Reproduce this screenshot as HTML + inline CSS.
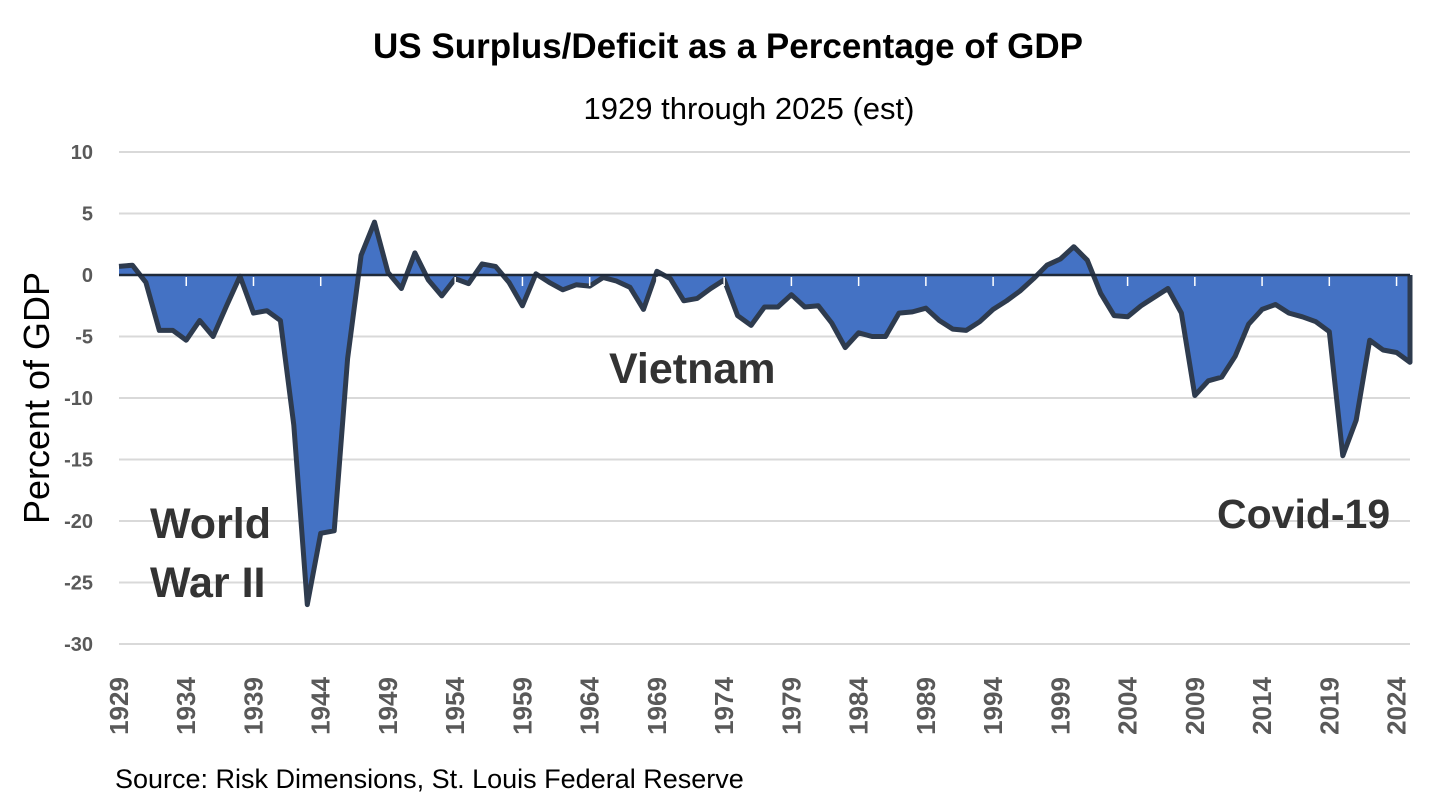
<!DOCTYPE html>
<html><head><meta charset="utf-8">
<style>
html,body{margin:0;padding:0;background:#fff;}
svg{display:block;font-family:"Liberation Sans",sans-serif;}
</style></head>
<body>
<svg id="chart" width="1456" height="807" viewBox="0 0 1456 807" xmlns="http://www.w3.org/2000/svg">
<rect width="1456" height="807" fill="#fff"/>
<text x="728" y="58" text-anchor="middle" font-size="35" font-weight="bold" fill="#000">US Surplus/Deficit as a Percentage of GDP</text>
<text x="749" y="119" text-anchor="middle" font-size="31" fill="#000">1929 through 2025 (est)</text>
<text transform="translate(49,398) rotate(-90)" text-anchor="middle" font-size="36" fill="#000">Percent of GDP</text>
<g id="grid"></g>
<g id="area"></g>
<g id="xaxis"></g>
<g id="yaxis"></g>
<text x="150" y="538" font-size="43" font-weight="bold" fill="#333">World</text>
<text x="150" y="597" font-size="43" font-weight="bold" fill="#333">War II</text>
<text x="609" y="383" font-size="43" font-weight="bold" fill="#333">Vietnam</text>
<text x="1217" y="528" font-size="41" font-weight="bold" fill="#333">Covid-19</text>
<text x="115" y="788" font-size="27" fill="#000">Source: Risk Dimensions, St. Louis Federal Reserve</text>
</svg>
<script>
const startYear = 1929;
const values = [0.7,0.8,-0.6,-4.5,-4.5,-5.3,-3.7,-5.0,-2.5,-0.1,-3.1,-2.9,-3.7,-12.2,-26.8,-21.0,-20.8,-6.8,1.6,4.3,0.2,-1.1,1.8,-0.4,-1.7,-0.3,-0.7,0.9,0.7,-0.6,-2.5,0.1,-0.6,-1.2,-0.8,-0.9,-0.2,-0.5,-1.0,-2.8,0.3,-0.3,-2.1,-1.9,-1.1,-0.4,-3.3,-4.1,-2.6,-2.6,-1.6,-2.6,-2.5,-3.9,-5.9,-4.7,-5.0,-5.0,-3.1,-3.0,-2.7,-3.7,-4.4,-4.5,-3.8,-2.8,-2.1,-1.3,-0.3,0.8,1.3,2.3,1.2,-1.5,-3.3,-3.4,-2.5,-1.8,-1.1,-3.1,-9.8,-8.6,-8.3,-6.6,-4.0,-2.8,-2.4,-3.1,-3.4,-3.8,-4.6,-14.7,-11.8,-5.3,-6.1,-6.3,-7.1];
const yTicks = [10,5,0,-5,-10,-15,-20,-25,-30];
const xTickYears = [1929,1934,1939,1944,1949,1954,1959,1964,1969,1974,1979,1984,1989,1994,1999,2004,2009,2014,2019,2024];

const NS="http://www.w3.org/2000/svg";
const X0=119, X1=1410, Y10=152, Yn30=644;
const endYear = startYear + values.length - 1;
function xs(yr){return X0+(yr-1929)*(X1-X0)/96;}
function ys(v){return Y10+(10-v)*(Yn30-Y10)/40;}
function mk(tag,attrs,parent){const e=document.createElementNS(NS,tag);for(const k in attrs)e.setAttribute(k,attrs[k]);parent.appendChild(e);return e;}

const grid=document.getElementById('grid'), yax=document.getElementById('yaxis');
yTicks.forEach(t=>{
  const l=mk('line',{x1:X0,x2:X1,y1:ys(t),y2:ys(t),stroke:'#d9d9d9','stroke-width':2},grid);
  
  
  const tx=mk('text',{x:93,y:ys(t)+7,'text-anchor':'end','font-size':20,'font-weight':'bold',fill:'#595959'},yax);
  tx.textContent=t;
  
  
});

const area=document.getElementById('area');
let pts=values.map((v,i)=>xs(startYear+i).toFixed(1)+','+ys(v).toFixed(1));
const fillD='M'+xs(startYear)+','+ys(0)+' L'+pts.join(' L')+' L'+xs(endYear)+','+ys(0)+' Z';
const f=mk('path',{d:fillD,fill:'#4472c4',stroke:'none'},area);


const ln=mk('path',{d:'M'+pts.join(' L')+' L'+xs(endYear)+','+ys(0),fill:'none',stroke:'#2e3b4e','stroke-width':5,'stroke-linejoin':'round'},area);



const xax=document.getElementById('xaxis');
const z=mk('line',{x1:X0,x2:X1,y1:ys(0),y2:ys(0),stroke:'#1f2a3a','stroke-width':2.5},xax);


for(let yr=startYear;yr<=endYear;yr+=5){
  const tk=mk('line',{x1:xs(yr),x2:xs(yr),y1:ys(0)+2,y2:ys(0)+11,stroke:'#fff','stroke-width':1.5},xax);
  
  
}
xTickYears.forEach(yr=>{
  const tx=mk('text',{transform:'translate('+(xs(yr)+9)+',706) rotate(-90)','text-anchor':'middle','font-size':26,'font-weight':'bold',fill:'#595959'},xax);
  tx.textContent=yr;
  
  
});
</script>
</body></html>
